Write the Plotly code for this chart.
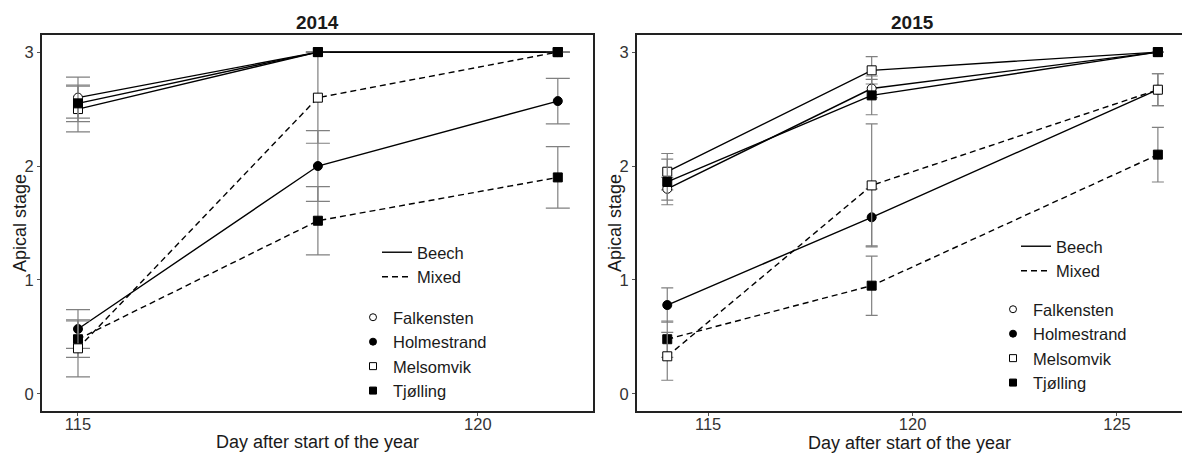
import plotly.graph_objects as go

# Sampling days for each season
days_2014 = [115, 118, 121]
days_2015 = [114, 119, 126]

# Mean apical stage and standard error per site and stand type, 2014
falkensten_beech_2014 = [2.60, 3.00, 3.00]
falkensten_beech_2014_se = [0.18, 0.0, 0.0]
tjolling_beech_2014 = [2.55, 3.00, 3.00]
tjolling_beech_2014_se = [0.16, 0.0, 0.0]
melsomvik_beech_2014 = [2.50, 3.00, 3.00]
melsomvik_beech_2014_se = [0.20, 0.0, 0.0]
holmestrand_beech_2014 = [0.57, 2.00, 2.57]
holmestrand_beech_2014_se = [0.17, 0.31, 0.20]
melsomvik_mixed_2014 = [0.40, 2.60, 3.00]
melsomvik_mixed_2014_se = [0.25, 0.40, 0.0]
tjolling_mixed_2014 = [0.48, 1.52, 1.90]
tjolling_mixed_2014_se = [0.16, 0.30, 0.27]

# Mean apical stage and standard error per site and stand type, 2015
falkensten_beech_2015 = [1.80, 2.68, 3.00]
falkensten_beech_2015_se = [0.10, 0.08, 0.0]
tjolling_beech_2015 = [1.86, 2.62, 3.00]
tjolling_beech_2015_se = [0.20, 0.17, 0.0]
melsomvik_beech_2015 = [1.95, 2.84, 3.00]
melsomvik_beech_2015_se = [0.16, 0.12, 0.0]
holmestrand_beech_2015 = [0.78, 1.55, 2.67]
holmestrand_beech_2015_se = [0.15, 0.25, 0.14]
melsomvik_mixed_2015 = [0.33, 1.83, 2.67]
melsomvik_mixed_2015_se = [0.21, 0.54, 0.14]
tjolling_mixed_2015 = [0.48, 0.95, 2.10]
tjolling_mixed_2015_se = [0.16, 0.26, 0.24]

sites = ["Falkensten", "Holmestrand", "Melsomvik", "Tjølling"]
stand_types = ["Beech", "Mixed"]
y_ticks = [0, 1, 2, 3]

FONT = "Liberation Sans, Arial, sans-serif"
W, H = 1182, 453

# marker style per site: (symbol, fill)
site_style = {
    "Falkensten": ("circle", "white"),
    "Holmestrand": ("circle", "black"),
    "Melsomvik": ("square", "white"),
    "Tjølling": ("square", "black"),
}
stand_dash = {"Beech": "solid", "Mixed": "6px,4px"}

series_2014 = [
    ("Holmestrand", "Beech", holmestrand_beech_2014, holmestrand_beech_2014_se),
    ("Tjølling", "Mixed", tjolling_mixed_2014, tjolling_mixed_2014_se),
    ("Melsomvik", "Mixed", melsomvik_mixed_2014, melsomvik_mixed_2014_se),
    ("Melsomvik", "Beech", melsomvik_beech_2014, melsomvik_beech_2014_se),
    ("Falkensten", "Beech", falkensten_beech_2014, falkensten_beech_2014_se),
    ("Tjølling", "Beech", tjolling_beech_2014, tjolling_beech_2014_se),
]
series_2015 = [
    ("Tjølling", "Mixed", tjolling_mixed_2015, tjolling_mixed_2015_se),
    ("Holmestrand", "Beech", holmestrand_beech_2015, holmestrand_beech_2015_se),
    ("Melsomvik", "Mixed", melsomvik_mixed_2015, melsomvik_mixed_2015_se),
    ("Melsomvik", "Beech", melsomvik_beech_2015, melsomvik_beech_2015_se),
    ("Falkensten", "Beech", falkensten_beech_2015, falkensten_beech_2015_se),
    ("Tjølling", "Beech", tjolling_beech_2015, tjolling_beech_2015_se),
]

fig = go.Figure()


def add_panel(days, series, xa, ya, cap):
    for site, stand, vals, se in series:
        sym, fill = site_style[site]
        fig.add_trace(go.Scatter(
            x=days, y=vals, xaxis=xa, yaxis=ya, mode="lines+markers",
            line=dict(color="black", width=1.4, dash=stand_dash[stand]),
            marker=dict(symbol=sym, size=9, color=fill, line=dict(color="black", width=1)),
            error_y=dict(type="data", array=se, visible=True, color="#808080",
                         thickness=1.2, width=cap),
            showlegend=False, hoverinfo="skip",
        ))


add_panel(days_2014, series_2014, "x", "y", 12)
add_panel(days_2015, series_2015, "x2", "y2", 6)

# Legend entries: stand type (line style) and site (marker)
for lg_lines, lg_marks, xa, ya in [("legend", "legend2", "x", "y"), ("legend3", "legend4", "x2", "y2")]:
    for stand in stand_types:
        fig.add_trace(go.Scatter(
            x=[None], y=[None], xaxis=xa, yaxis=ya, mode="lines", name=stand,
            line=dict(color="black", width=1.4, dash=stand_dash[stand]),
            legend=lg_lines, showlegend=True,
        ))
    for site in sites:
        sym, fill = site_style[site]
        fig.add_trace(go.Scatter(
            x=[None], y=[None], xaxis=xa, yaxis=ya, mode="markers", name=site,
            marker=dict(symbol=sym, size=7, color=fill, line=dict(color="black", width=1)),
            legend=lg_marks, showlegend=True,
        ))


def px(xp):
    return xp / W


def py(yp):
    return 1 - yp / H


legend_common = dict(xanchor="left", yanchor="top", bgcolor="rgba(0,0,0,0)",
                     font=dict(family=FONT, size=16.5, color="#1a1a1a"),
                     itemwidth=30, tracegroupgap=0, borderwidth=0)

y_dom = [py(411), py(35)]
axis_common = dict(showline=True, linecolor="#222222", linewidth=2, mirror=True,
                   ticks="outside", ticklen=3, tickcolor="#555555", tickwidth=1,
                   showgrid=False, zeroline=False,
                   tickfont=dict(family=FONT, size=16.5, color="#333333"))
title_font = dict(family=FONT, size=18, color="#1a1a1a")

fig.update_layout(
    width=W, height=H,
    margin=dict(l=0, r=0, t=0, b=0),
    paper_bgcolor="white", plot_bgcolor="white",
    font=dict(family=FONT),
    xaxis=dict(domain=[px(42), px(593)], range=[114.55, 121.44], tickvals=[115, 120],
               title=dict(text="Day after start of the year", font=title_font, standoff=4),
               anchor="y", ticklabelstandoff=-6, **axis_common),
    yaxis=dict(domain=y_dom, range=[-0.15, 3.15], tickvals=y_ticks,
               anchor="x", **axis_common),
    xaxis2=dict(domain=[px(637), 1.0], range=[113.26, 126.59], tickvals=[115, 120, 125],
                title=dict(text="Day after start of the year", font=title_font, standoff=4),
                anchor="y2", ticklabelstandoff=-6, **axis_common),
    yaxis2=dict(domain=y_dom, range=[-0.15, 3.15], tickvals=y_ticks,
                anchor="x2", **{**axis_common, "mirror": False}),
    legend=dict(x=px(377), y=py(235), **legend_common),
    legend2=dict(x=px(353), y=py(300), **legend_common),
    legend3=dict(x=px(1016), y=py(229), **legend_common),
    legend4=dict(x=px(993), y=py(292), **legend_common),
    annotations=[
        dict(text="<b>2014</b>", x=px(317.5), y=py(22), xref="paper", yref="paper",
             showarrow=False, xanchor="center", yanchor="middle",
             font=dict(family=FONT, size=19, color="#1a1a1a")),
        dict(text="<b>2015</b>", x=px(912), y=py(22), xref="paper", yref="paper",
             showarrow=False, xanchor="center", yanchor="middle",
             font=dict(family=FONT, size=19, color="#1a1a1a")),
        dict(text="Apical stage", x=px(20), y=py(223), xref="paper", yref="paper",
             textangle=-90, showarrow=False, xanchor="center", yanchor="middle",
             font=title_font),
        dict(text="Apical stage", x=px(615), y=py(223), xref="paper", yref="paper",
             textangle=-90, showarrow=False, xanchor="center", yanchor="middle",
             font=title_font),
    ],
)

fig.write_html("out.html")
